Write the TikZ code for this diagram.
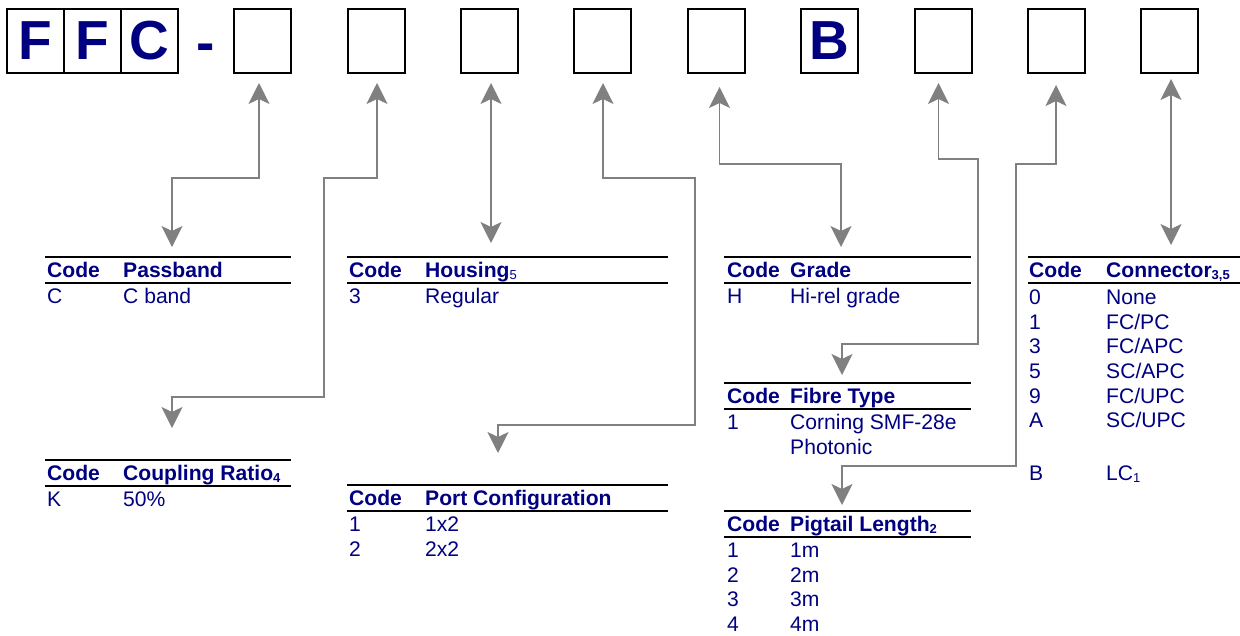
\documentclass[tikz,border=0pt]{standalone}
\usepackage{fontspec}
\setmainfont{Liberation Sans}
\usetikzlibrary{arrows.meta}
\definecolor{navy}{HTML}{000080}
\definecolor{conngray}{HTML}{808080}
\newcommand{\subs}[1]{\raisebox{-2.5pt}{\fontsize{13}{13}\selectfont #1}}
\tikzset{
  box/.style={draw=black,line width=2pt,fill=white,minimum width=57pt,minimum height=63.4pt,inner sep=0pt,
    text=navy,font=\fontsize{55}{55}\selectfont\bfseries},
  hdr/.style={anchor=base west,inner sep=0pt,text=navy,font=\fontsize{21.1}{24}\selectfont\bfseries},
  cell/.style={anchor=base west,inner sep=0pt,text=navy,font=\fontsize{21.1}{24}\selectfont},
  rule/.style={draw=black,line width=1.8pt},
  tipstyle/.style={},
  dconn/.style={draw=conngray,line width=1.6pt,
    {Stealth[length=21pt 0 0,width=21pt 0 0,inset=5pt 0 0]}-{Stealth[length=21pt 0 0,width=21pt 0 0,inset=5pt 0 0]}}
}
\begin{document}
\begin{tikzpicture}[x=1pt,y=-1pt]
\useasboundingbox (0,0) rectangle (1240,635);
% top code boxes
\node[box] (b1) at (35.7,41) {F};
\node[box] (b2) at (92.5,41) {F};
\node[box] (b3) at (149.5,41) {C};
\node[anchor=base,inner sep=0pt,text=navy,font=\fontsize{55}{55}\selectfont\bfseries] (dash) at (206,61) {-};
\node[box] (b4) at (262.5,41) {};
\node[box] (b5) at (376.5,41) {};
\node[box] (b6) at (489,41) {};
\node[box] (b7) at (602.5,41) {};
\node[box] (b8) at (716,41) {};
\node[box] (b9) at (829,41) {B};
\node[box] (b10) at (943,41) {};
\node[box] (b11) at (1056.5,41) {};
\node[box] (b12) at (1169.5,41) {};

% Passband table
\draw[rule] (45,257) -- (291,257);
\draw[rule] (45,283) -- (291,283);
\node[hdr] (pbh1) at (47,277) {Code};
\node[hdr] (pbh2) at (123,277) {Passband};
\node[cell] (pbr1) at (47,303) {C};
\node[cell] (pbr2) at (123,303) {C band};

% Housing table
\draw[rule] (347,257) -- (668,257);
\draw[rule] (347,283) -- (668,283);
\node[hdr] (hoh1) at (349,277) {Code};
\node[hdr] (hoh2) at (425,277) {Housing{\mdseries\subs{5}}};
\node[cell] (hor1) at (349,303) {3};
\node[cell] (hor2) at (425,303) {Regular};

% Grade table
\draw[rule] (724,257) -- (971,257);
\draw[rule] (724,283) -- (971,283);
\node[hdr] (grh1) at (727,277) {Code};
\node[hdr] (grh2) at (790,277) {Grade};
\node[cell] (grr1) at (727,303) {H};
\node[cell] (grr2) at (790,303) {Hi-rel grade};

% Connector table
\draw[rule] (1028,257) -- (1240,257);
\draw[rule] (1028,283) -- (1240,283);
\node[hdr] (coh1) at (1029,277) {Code};
\node[hdr] (coh2) at (1106,277) {Connector\subs{3,5}};
\node[cell] (cor1a) at (1029,304) {0};
\node[cell] (cor1b) at (1106,304) {None};
\node[cell] (cor2a) at (1029,329) {1};
\node[cell] (cor2b) at (1106,329) {FC/PC};
\node[cell] (cor3a) at (1029,353) {3};
\node[cell] (cor3b) at (1106,353) {FC/APC};
\node[cell] (cor4a) at (1029,378) {5};
\node[cell] (cor4b) at (1106,378) {SC/APC};
\node[cell] (cor5a) at (1029,403) {9};
\node[cell] (cor5b) at (1106,403) {FC/UPC};
\node[cell] (cor6a) at (1029,427) {A};
\node[cell] (cor6b) at (1106,427) {SC/UPC};
\node[cell] (cor7a) at (1029,480) {B};
\node[cell] (cor7b) at (1106,480) {LC\subs{1}};

% Coupling table
\draw[rule] (45,460) -- (291,460);
\draw[rule] (45,486) -- (291,486);
\node[hdr] (cph1) at (47,480) {Code};
\node[hdr] (cph2) at (123,480) {Coupling Ratio\subs{4}};
\node[cell] (cpr1) at (47,506) {K};
\node[cell] (cpr2) at (123,506) {50\%};

% Port configuration table
\draw[rule] (347,485) -- (668,485);
\draw[rule] (347,511) -- (668,511);
\node[hdr] (poh1) at (349,505) {Code};
\node[hdr] (poh2) at (425,505) {Port Configuration};
\node[cell] (por1a) at (349,531) {1};
\node[cell] (por1b) at (425,531) {1x2};
\node[cell] (por2a) at (349,556) {2};
\node[cell] (por2b) at (425,556) {2x2};

% Fibre type table
\draw[rule] (724,383) -- (971,383);
\draw[rule] (724,409) -- (971,409);
\node[hdr] (fih1) at (727,403) {Code};
\node[hdr] (fih2) at (790,403) {Fibre Type};
\node[cell] (fir1a) at (727,429) {1};
\node[cell] (fir1b) at (790,429) {Corning SMF-28e};
\node[cell] (fir2b) at (790,454) {Photonic};

% Pigtail table
\draw[rule] (724,511) -- (971,511);
\draw[rule] (724,537) -- (971,537);
\node[hdr] (pih1) at (727,531) {Code};
\node[hdr] (pih2) at (790,531) {Pigtail Length\subs{2}};
\node[cell] (pir1a) at (727,557) {1};
\node[cell] (pir1b) at (790,557) {1m};
\node[cell] (pir2a) at (727,582) {2};
\node[cell] (pir2b) at (790,582) {2m};
\node[cell] (pir3a) at (727,606) {3};
\node[cell] (pir3b) at (790,606) {3m};
\node[cell] (pir4a) at (727,631) {4};
\node[cell] (pir4b) at (790,631) {4m};

% connector end points
\coordinate (t4) at (259,83);   \coordinate (e4) at (172,247);
\coordinate (t5) at (377,83);   \coordinate (e5) at (172,428);
\coordinate (t6) at (491,83);   \coordinate (e6) at (491,243);
\coordinate (t7) at (603,83);   \coordinate (e7) at (498,453);
\coordinate (t8) at (719.5,87); \coordinate (e8) at (841,247);
\coordinate (t10) at (938.5,83); \coordinate (e10) at (842,375);
\coordinate (t11) at (1056,85); \coordinate (e11) at (842,505);
\coordinate (t12) at (1171,79); \coordinate (e12) at (1171,245);

\draw[dconn] (t4) -- (259,178) -- (172,178) -- (e4);
\draw[dconn] (t5) -- (377,178) -- (324,178) -- (324,397) -- (172,397) -- (e5);
\draw[dconn] (t6) -- (e6);
\draw[dconn] (t7) -- (603,178) -- (695,178) -- (695,425) -- (498,425) -- (e7);
\draw[dconn] (t8) -- (719.5,164) -- (841,164) -- (e8);
\draw[dconn] (t10) -- (938.5,159) -- (978,159) -- (978,344) -- (842,344) -- (e10);
\draw[dconn] (t11) -- (1056,164) -- (1016,164) -- (1016,466) -- (842,466) -- (e11);
\draw[dconn] (t12) -- (e12);
\end{tikzpicture}
\end{document}
